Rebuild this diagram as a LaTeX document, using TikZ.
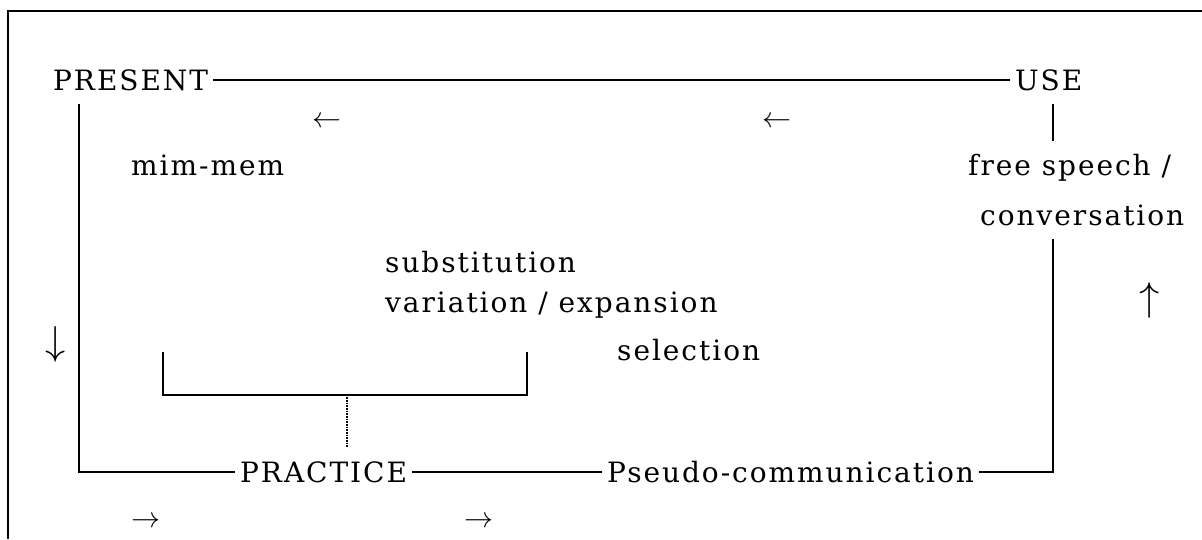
\documentclass[tikz,border=0pt]{standalone}
\usepackage{fontspec}
\setmainfont{DejaVu Serif}[LetterSpace=7]
\begin{document}
\begin{tikzpicture}[x=1pt,y=-1pt,
  lbl/.style={anchor=base west,inner xsep=6pt,inner ysep=15pt,text height=20pt,text depth=0pt,
              font=\fontsize{28pt}{33pt}\selectfont},
  harr/.style={inner sep=0pt},
  conn/.style={line width=1.8pt,line cap=rect},
  frame/.style={line width=2.5pt}]
\useasboundingbox (0,0) rectangle (1202,539);
\draw[frame] (8,539) -- (8,11) -- (1202,11);
% text nodes
\node[lbl] (present) at (47,90) {PRESENT};
\node[lbl] (use) at (1009,90) {USE};
\node[lbl] (mim) at (125,175) {mim-mem};
\node[lbl] (fs1) at (962,175) {free speech /};
\node[lbl] (fs2) at (974,225) {conversation};
\node[lbl] (sub) at (379,272) {substitution};
\node[lbl] (var) at (379,312) {variation / expansion};
\node[lbl] (sel) at (611,360) {selection};
\node[lbl] (practice) at (234,482) {PRACTICE};
\node[lbl] (pseudo) at (601,482) {Pseudo-communication};
% arrows as text
\node[harr] (la1) at (327,122) {\resizebox{29pt}{!}{$\leftarrow$}};
\node[harr] (la2) at (777,122) {\resizebox{29pt}{!}{$\leftarrow$}};
\node[harr] (ua) at (1150,300) {\resizebox{!}{28pt}{$\uparrow$}};
\node[harr] (da) at (56,344) {\resizebox{!}{28pt}{$\downarrow$}};
\node[harr] (ra1) at (146,522) {\resizebox{29pt}{!}{$\rightarrow$}};
\node[harr] (ra2) at (479,522) {\resizebox{29pt}{!}{$\rightarrow$}};
% guide coordinates
\coordinate (xL) at (79,0);
\coordinate (xR) at (1053,0);
\coordinate (bl) at (163,353);
\coordinate (br) at (527,353);
\coordinate (stem) at (347,395);
% connectors
\draw[conn] (present.east) -- (use.west);
\draw[conn] (use.south -| xR) -- (fs1.north -| xR);
\draw[conn] (fs2.south -| xR) |- (pseudo.east);
\draw[conn] (present.south -| xL) |- (practice.west);
\draw[conn] (practice.east) -- (pseudo.west);
\draw[conn] (bl) |- (stem) -| (br);
\draw[line width=1.2pt,dash pattern=on 1pt off 0.6pt] (stem) -- (stem |- practice.north);
\end{tikzpicture}
\end{document}
